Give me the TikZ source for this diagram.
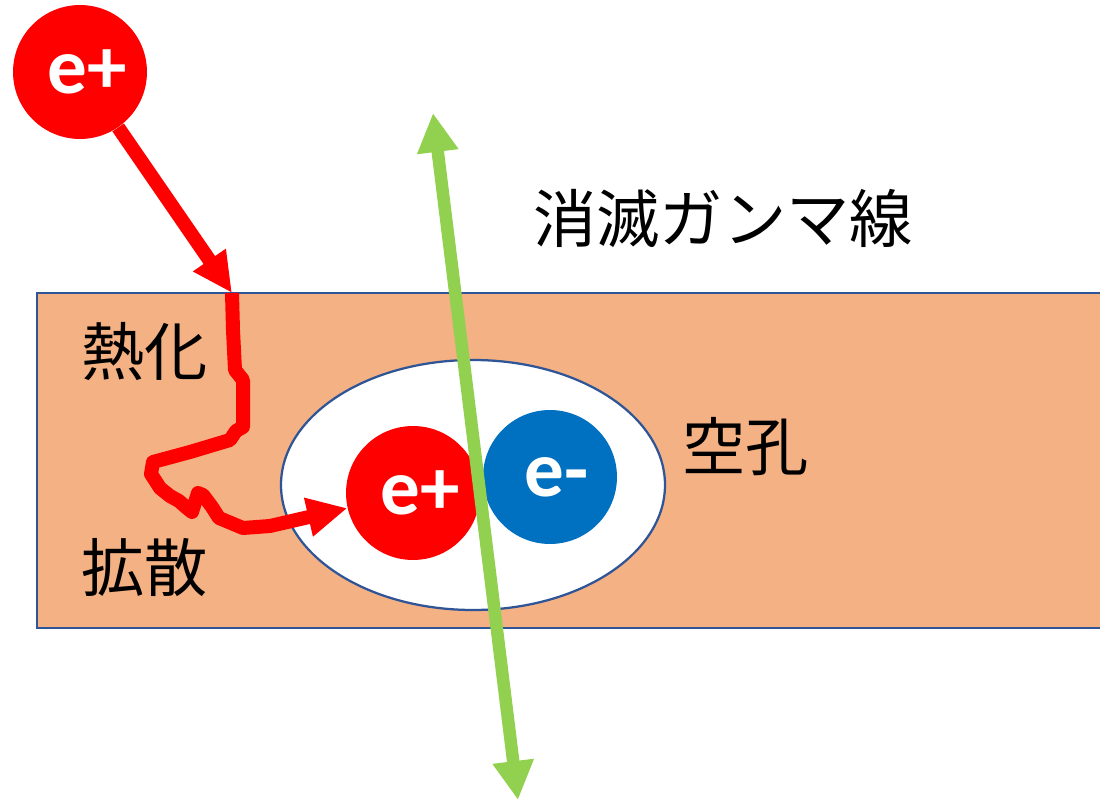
\documentclass[tikz,border=0pt]{standalone}
\usepackage{fontspec}
\setmainfont{Carlito}
\newfontfamily\jafont{Noto Sans CJK JP}
\usetikzlibrary{arrows.meta}
\definecolor{slab}{HTML}{F4B183}
\definecolor{edgeblue}{HTML}{2F5597}
\definecolor{posred}{HTML}{FF0000}
\definecolor{elecblue}{HTML}{0070C0}
\definecolor{gammagreen}{HTML}{92D050}
\tikzset{
  particle/.style={circle, minimum size=2.68cm, inner sep=0pt,
    font=\fontsize{45}{50}\selectfont\bfseries, text=white},
  txtlabel/.style={font=\jafont\fontsize{36}{40}\selectfont, text=black, anchor=west, inner sep=0pt},
  redpath/.style={draw=posred, line width=0.28cm, line join=round,
    -{Triangle[length=0.8cm, width=0.74cm]}},
  gammaray/.style={draw=gammagreen, line width=0.25cm,
    {Triangle[length=0.78cm, width=0.78cm]}-{Triangle[length=0.78cm, width=0.78cm]}}
}
\newcommand{\ptext}[1]{\kern0.28cm#1}
\begin{document}
\begin{tikzpicture}[x=0.02cm, y=-0.02cm]
\useasboundingbox (0,0) rectangle (1100,800);
\clip (0,0) rectangle (1100,800);

% material slab
\draw[fill=slab, draw=edgeblue, line width=0.045cm] (37,293) rectangle (1120,628);

% vacancy
\draw[fill=white, draw=edgeblue, line width=0.045cm] (473,485) ellipse [x radius=192, y radius=125];

% particles
\node[particle, fill=posred] (pin) at (80,72) {\ptext{e+}};
\node[particle, fill=posred] (pv) at (413,493) {\ptext{e+}};
\node[particle, fill=elecblue] (ev) at (550,477) {\ptext{e-}};

% incoming positron
\coordinate (entry) at (232,293);
\draw[redpath, line join=miter] (pin) -- (entry);

% thermalisation and diffusion track
\draw[redpath] (entry) -- (233,330) -- (235,370) -- (243,380) -- (243,427)
  -- (236,431) -- (230,440) -- (190,452) -- (153,462) -- (151,474) -- (160,488)
  -- (170,496) -- (179,501) -- (187,508) -- (192,512) -- (198,493) -- (203,495)
  -- (212,507) -- (219,518) -- (243,528) -- (270,526) -- (pv);

% annihilation gamma rays
\coordinate (gtop) at (433,113);
\coordinate (gbot) at (518,800);
\draw[gammaray] (gtop) -- (gbot);

% labels
\node[txtlabel] (lgamma) at (533,218) {消滅ガンマ線};
\node[txtlabel] (lthermal) at (81,352) {熱化};
\node[txtlabel] (lvac) at (682,447) {空孔};
\node[txtlabel] (ldiff) at (81,568) {拡散};
\end{tikzpicture}
\end{document}
